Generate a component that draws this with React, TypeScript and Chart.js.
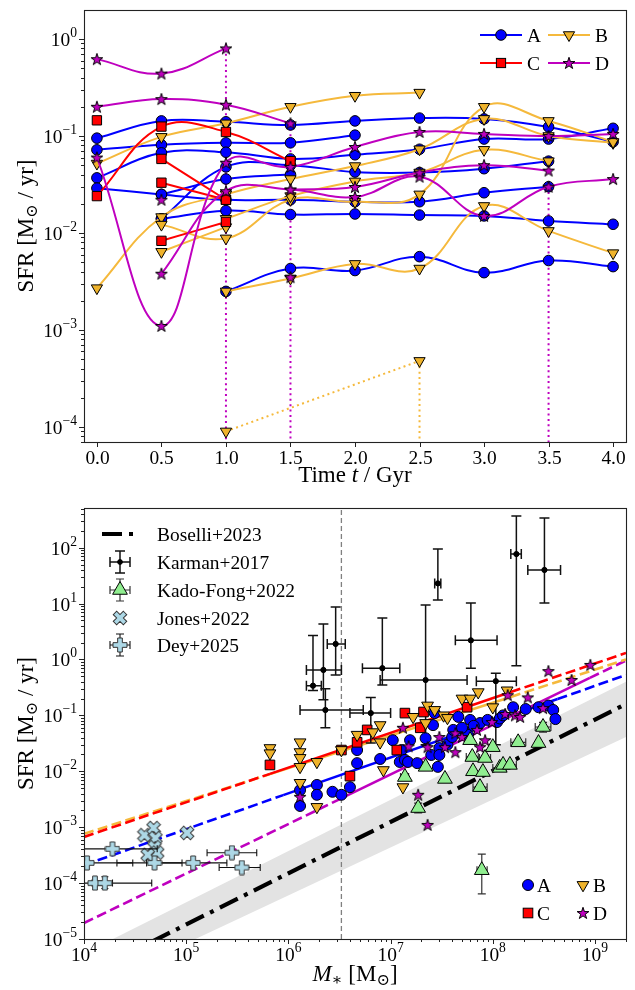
import React, { useEffect, useRef } from "react";
import { Chart, registerables } from "chart.js";

Chart.register(...registerables);

const SERIF = '"Liberation Serif", "Times New Roman", "DejaVu Serif", serif';
const F_TICK = 19.4;
const F_LAB = 23;
const F_LEG = 19.4;

const C_BLUE = "#0000ff";
const C_RED = "#ff0000";
const C_MAG = "#bf00bf";
const C_GOLD = "#f5b93c";
const C_GOLDFILL = "#efb32b";
const C_GREEN = "#90ee90";
const C_LBLUE = "#add8e6";
const C_BAND = "#e3e3e3";

// ================= TOP PANEL DATA =================
const times = [0, 0.5, 1.0, 1.5, 2.0, 2.5, 3.0, 3.5, 4.0];
const timeTicks = [0, 0.5, 1.0, 1.5, 2.0, 2.5, 3.0, 3.5, 4.0];
const topExps = [-4, -3, -2, -1, 0];
const topTMin = -0.1, topTMax = 4.1, topYMin = 7e-5, topYMax = 1.99;

const sfrA1 = [0.095, 0.143, 0.14, 0.13, 0.143, 0.153, 0.15, 0.124, 0.087];
const sfrA2 = [0.072, 0.081, 0.085, 0.085, 0.102, null, null, null, null];
const sfrA3 = [0.037, 0.067, 0.068, 0.058, 0.064, 0.073, 0.093, 0.093, 0.12];
const sfrA4 = [0.029, 0.025, 0.022, 0.022, 0.021, 0.021, 0.026, 0.03, null];
const sfrA5 = [null, 0.014, 0.048, 0.05, 0.0425, 0.042, 0.046, 0.055, null];
const sfrA6 = [null, 0.025, 0.036, 0.04, null, null, null, null, null];
const sfrA7 = [null, 0.014, 0.017, 0.0155, 0.0157, 0.0153, 0.015, 0.0133, 0.0123];
const sfrA8 = [null, null, 0.0025, 0.0043, 0.0041, 0.0057, 0.0039, 0.0052, 0.0045];

const sfrB1 = [0.052, 0.098, 0.135, 0.2, 0.26, 0.28, null, null, null];
const sfrB2 = [0.0027, 0.0146, 0.025, 0.036, 0.049, 0.073, 0.15, 0.1, 0.085];
const sfrB3 = [null, 0.0122, 0.0088, 0.022, 0.021, 0.025, 0.2, 0.143, 0.087];
const sfrB4 = [null, null, 0.0025, 0.0034, 0.0048, 0.0043, 0.019, 0.0105, 0.0062];
const sfrB5 = [null, 0.0064, 0.0115, null, null, null, null, null, null];
const sfrB6 = [null, null, 0.014, 0.024, 0.034, 0.042, 0.072, 0.055, null];
const dottedBTimes = [1.0, 2.5];
const dottedBSfr = [9e-5, 4.8e-4];

const sfrC1 = [0.024, 0.125, 0.11, 0.055, null, null, null, null, null];
const sfrC2 = [null, 0.058, 0.022, null, null, null, null, null, null];
const sfrC3 = [null, 0.033, 0.022, null, null, null, null, null, null];
const sfrC4 = [null, 0.0083, 0.013, null, null, null, null, null, null];
const sfrC5 = [0.145, null, null, null, null, null, null, null, null];

const sfrD1 = [0.62, 0.44, 0.8, null, null, null, null, null, null];
const sfrD2 = [0.2, 0.24, 0.21, 0.135, null, null, null, null, null];
const sfrD3 = [0.06, 0.0011, 0.053, 0.048, 0.077, 0.11, 0.105, 0.1, 0.105];
const sfrD4 = [null, 0.0038, 0.027, 0.028, 0.0235, 0.038, 0.015, 0.03, 0.036];
const sfrD5 = [null, null, null, 0.028, 0.0298, 0.042, 0.05, 0.044, null];
const sfrD6 = [null, 0.022, null, null, null, null, null, null, null];
const sfrD7 = [null, null, null, 0.0035, null, null, null, null, null];

const dropTimesD = [1.0, 1.5, 3.5];
const dropTopD = [0.8, 0.135, 0.03];
const dropTimesB = [2.5];
const dropTopB = [4.8e-4];

// ================= BOTTOM PANEL DATA =================
const botMMin = 1e4, botMMax = 2.01e9, botYMin = 1e-5, botYMax = 513;
const botXExps = [4, 5, 6, 7, 8, 9];
const botYExps = [-5, -4, -3, -2, -1, 0, 1, 2];

const massA = [1.3e6, 1.3e6, 1.9e6, 1.9e6, 2.7e6, 3.3e6, 4.0e6, 4.7e6, 4.7e6, 7.9e6, 1.05e7, 1.23e7, 1.28e7, 1.38e7, 1.48e7, 1.55e7, 1.82e7, 2.2e7, 2.5e7, 2.6e7, 2.9e7, 3.0e7, 3.6e7, 4.0e7, 4.1e7, 4.6e7, 5.4e7, 5.7e7, 6.0e7, 7.5e7, 8.9e7, 1.1e8, 1.58e8, 2.1e8, 2.8e8, 3.5e8, 3.9e8, 4.1e8, 2.7e7, 3.0e7, 5.0e7, 6.5e7, 1.17e8, 1.26e8];
const sfrA = [0.0046, 0.0024, 0.0057, 0.0038, 0.0043, 0.0038, 0.0052, 0.014, 0.024, 0.0166, 0.036, 0.0147, 0.024, 0.016, 0.0147, 0.036, 0.014, 0.039, 0.0196, 0.067, 0.012, 0.026, 0.030, 0.041, 0.055, 0.094, 0.050, 0.045, 0.083, 0.073, 0.083, 0.076, 0.14, 0.13, 0.14, 0.15, 0.125, 0.086, 0.11, 0.0196, 0.06, 0.065, 0.088, 0.1];

const massB = [6.6e5, 6.6e5, 1.3e6, 1.3e6, 1.3e6, 1.3e6, 1.3e6, 1.9e6, 1.9e6, 3.3e6, 4.7e6, 6.7e6, 7.9e6, 7.9e6, 8.5e6, 1.32e7, 1.66e7, 2.2e7, 2.3e7, 2.7e7, 3.3e7, 3.6e7, 5.0e7, 6.0e7, 7.2e7, 1.0e8, 1.38e8];
const sfrB = [0.026, 0.021, 0.033, 0.022, 0.0173, 0.012, 0.0062, 0.0147, 0.0023, 0.024, 0.045, 0.050, 0.067, 0.033, 0.0105, 0.0052, 0.094, 0.073, 0.15, 0.125, 0.10, 0.09, 0.20, 0.20, 0.26, 0.14, 0.28];

const massC = [6.6e5, 3.3e6, 4.0e6, 4.7e6, 5.9e6, 1.15e7, 1.38e7, 1.95e7, 2.1e7, 5.6e7];
const sfrC = [0.013, 0.024, 0.0082, 0.033, 0.055, 0.024, 0.11, 0.060, 0.115, 0.14];

const massD = [1.3e6, 1.32e7, 1.5e7, 1.86e7, 2.3e7, 2.3e7, 3.0e7, 3.4e7, 4.3e7, 4.3e7, 5.0e7, 7.0e7, 7.5e7, 8.4e7, 9.8e7, 1.32e8, 1.65e8, 1.85e8, 1.4e8, 2.2e8, 3.1e8, 3.5e8, 5.9e8, 9.0e8];
const sfrD = [0.0035, 0.060, 0.028, 0.0038, 0.0011, 0.027, 0.041, 0.027, 0.022, 0.048, 0.041, 0.055, 0.027, 0.036, 0.076, 0.106, 0.10, 0.094, 0.23, 0.21, 0.135, 0.62, 0.43, 0.80];

const massKF = [1.38e7, 1.86e7, 2.2e7, 3.4e7, 6.0e7, 6.3e7, 6.4e7, 7.5e7, 7.8e7, 8.0e7, 8.4e7, 1.0e8, 1.17e8, 1.26e8, 1.47e8, 1.77e8, 2.8e8, 3.1e8];
const sfrKF = [0.0079, 0.0022, 0.012, 0.0073, 0.036, 0.018, 0.010, 0.0052, 1.7e-4, 0.0097, 0.0173, 0.027, 0.0115, 0.013, 0.013, 0.033, 0.032, 0.062];
const massKFlo = [1.25e7, null, null, null, null, 5.5e7, null, 6.4e7, 7.0e7, null, 7.4e7, null, 1.0e8, null, 1.25e8, 1.5e8, null, 2.6e8];
const massKFhi = [1.5e7, null, null, null, null, 7.2e7, null, 8.8e7, 8.8e7, null, 9.5e7, null, 1.35e8, null, 1.7e8, 2.1e8, null, 3.7e8];
const sfrKFlo = [null, 0.0018, null, null, null, null, null, null, 6.4e-5, null, null, null, null, null, null, null, null, 0.05];
const sfrKFhi = [null, 0.0027, null, null, null, null, null, null, 3.3e-4, null, null, null, null, null, null, null, null, 0.075];

const massK = [1.74e6, 2.2e6, 2.9e6, 2.3e6, 6.4e6, 8.3e6, 2.2e7, 2.9e7, 6.1e7, 1.07e8, 1.7e8, 3.2e8];
const massKlo = [1.5e6, 1.5e6, 2.4e6, 1.3e6, 4.0e6, 5.3e6, 7.9e6, 2.7e7, 4.3e7, 6.9e7, 1.5e8, 2.2e8];
const massKhi = [2.1e6, 3.3e6, 3.6e6, 5.4e6, 1.0e7, 1.23e7, 5.6e7, 3.1e7, 1.1e8, 1.7e8, 1.9e8, 4.6e8];
const sfrK = [0.34, 0.65, 1.9, 0.125, 0.11, 0.70, 0.43, 23, 2.2, 0.41, 77, 40];
const sfrKlo = [0.28, 0.19, 0.53, 0.06, 0.032, 0.35, 0.030, 11.6, 0.70, 0.030, 0.77, 10.3];
const sfrKhi = [2.7, 4.3, 8.7, 0.30, 0.21, 5.5, 9.4, 95, 10.3, 0.57, 369, 340];

const massJ = [3.9e4, 4.8e4, 5.0e4, 4.9e4, 5.2e4, 4.2e4, 1.02e5];
const sfrJ = [7.2e-4, 9.7e-4, 6.4e-4, 4.4e-4, 3.5e-4, 3.2e-4, 7.9e-4];

const massDey = [1.07e4, 1.9e4, 1.28e4, 1.6e4, 4.9e4, 1.17e5, 2.8e5, 3.5e5];
const sfrDey = [2.3e-4, 4.1e-4, 1.0e-4, 1.0e-4, 2.3e-4, 2.3e-4, 3.5e-4, 1.9e-4];
const massDeyLo = [1.0e4, 1.0e4, 1.0e4, 1.2e4, 2.1e4, 4.1e4, 1.6e5, 2.1e5];
const massDeyHi = [3.0e4, 5.2e4, 1.9e4, 4.6e4, 9.1e4, 2.5e5, 4.9e5, 5.3e5];
const sfrDeyLo = [null, null, null, 8.0e-5, null, null, null, null];
const sfrDeyHi = [null, null, null, 1.3e-4, null, null, null, null];

const bandMass = [1e4, 2.01e9];
const bandUpper = [5.5e-6, 0.40];
const bandLower = [1.16e-6, 0.041];
const boselliMass = [1e4, 2.01e9];
const boselliSfr = [2.2e-6, 0.16];
const vlineMass = 3.3e6;

const fitRedMass = [1e4, 6.6e5, 1.5e8, 2.01e9];
const fitRedSfr = [6.7e-4, 9.0e-3, 0.262, 1.31];
const fitGoldMass = [1e4, 6.6e5, 1.5e8, 2.01e9];
const fitGoldSfr = [7.6e-4, 8.9e-3, 0.214, 1.0];
const fitBlueMass = [1e4, 8.9e5, 4.3e8, 2.01e9];
const fitBlueSfr = [2.1e-4, 3.75e-3, 0.196, 0.53];
const fitMagMass = [1e4, 3.4e6, 8.9e8, 2.01e9];
const fitMagSfr = [1.93e-5, 3.37e-3, 0.47, 0.96];

// ================= helpers =================
function toXY(xs: any[], ys: any[]) {
  const out: any[] = [];
  ys.forEach((v, i) => {
    if (v != null) out.push({ x: xs[i], y: v });
  });
  return out;
}

function makeStarImg(size: number, fill: string) {
  const c = document.createElement("canvas");
  c.width = size;
  c.height = size;
  const g = c.getContext("2d") as CanvasRenderingContext2D;
  const R = size / 2 - 0.8;
  const r = R * 0.382;
  g.beginPath();
  for (let i = 0; i < 10; i++) {
    const a = -Math.PI / 2 + (i * Math.PI) / 5;
    const rr = i % 2 === 0 ? R : r;
    g.lineTo(size / 2 + rr * Math.cos(a), size / 2 + rr * Math.sin(a) + R * 0.08);
  }
  g.closePath();
  g.fillStyle = fill;
  g.fill();
  g.lineWidth = 1;
  g.strokeStyle = "#000";
  g.stroke();
  return c;
}

function makePlusImg(size: number, fill: string, rot: boolean) {
  const c = document.createElement("canvas");
  c.width = size;
  c.height = size;
  const g = c.getContext("2d") as CanvasRenderingContext2D;
  g.translate(size / 2, size / 2);
  if (rot) g.rotate(Math.PI / 4);
  const h = rot ? (size / 2 - 1) * 1.02 : size / 2 - 1;
  const w = h / 3;
  const pts = [
    [-w, -h], [w, -h], [w, -w], [h, -w], [h, w], [w, w],
    [w, h], [-w, h], [-w, w], [-h, w], [-h, -w], [-w, -w],
  ];
  g.beginPath();
  pts.forEach((p) => g.lineTo(p[0], p[1]));
  g.closePath();
  g.fillStyle = fill;
  g.fill();
  g.lineWidth = 1;
  g.strokeStyle = "#333";
  g.stroke();
  return c;
}

function drawRuns(ctx: any, runs: any[], x: number, y: number, align: string) {
  let total = 0;
  const widths = runs.map((r) => {
    ctx.font = `${r.italic ? "italic " : ""}${r.size}px ${SERIF}`;
    const w = ctx.measureText(r.t).width;
    total += w;
    return w;
  });
  let cx = align === "center" ? x - total / 2 : align === "right" ? x - total : x;
  ctx.textAlign = "left";
  ctx.textBaseline = "alphabetic";
  ctx.fillStyle = "#000";
  runs.forEach((r, i) => {
    ctx.font = `${r.italic ? "italic " : ""}${r.size}px ${SERIF}`;
    ctx.fillText(r.t, cx, y + (r.dy || 0));
    cx += widths[i];
  });
}

function powRuns(e: number) {
  const s = e < 0 ? "\u2212" + Math.abs(e) : String(e);
  return [
    { t: "10", size: F_TICK },
    { t: s, size: F_TICK * 0.7, dy: -9 },
  ];
}

function drawFrame(ctx: any, a: any) {
  ctx.save();
  ctx.strokeStyle = "#222";
  ctx.lineWidth = 1.1;
  ctx.strokeRect(Math.round(a.left) + 0.5, Math.round(a.top) + 0.5, Math.round(a.right - a.left), Math.round(a.bottom - a.top));
  ctx.restore();
}

function drawLogTicks(ctx: any, scale: any, axis: string, a: any, vmin: number, vmax: number) {
  ctx.save();
  ctx.strokeStyle = "#222";
  ctx.lineWidth = 1;
  const d0 = Math.floor(Math.log10(vmin));
  const d1 = Math.ceil(Math.log10(vmax));
  for (let d = d0; d <= d1; d++) {
    for (let m = 1; m <= 9; m++) {
      const v = m * Math.pow(10, d);
      if (v < vmin * 0.9999 || v > vmax * 1.0001) continue;
      const p = Math.round(scale.getPixelForValue(v)) + 0.5;
      const len = m === 1 ? 5 : 3;
      ctx.beginPath();
      if (axis === "y") {
        ctx.moveTo(a.left, p);
        ctx.lineTo(a.left - len, p);
      } else {
        ctx.moveTo(p, a.bottom);
        ctx.lineTo(p, a.bottom + len);
      }
      ctx.stroke();
    }
  }
  ctx.restore();
}

function mkCircle(ctx: any, x: number, y: number, r: number, fill: string) {
  ctx.beginPath();
  ctx.arc(x, y, r, 0, Math.PI * 2);
  ctx.fillStyle = fill;
  ctx.fill();
  ctx.lineWidth = 1;
  ctx.strokeStyle = "#000";
  ctx.stroke();
}
function mkTri(ctx: any, x: number, y: number, r: number, fill: string, down: boolean) {
  const s = down ? -1 : 1;
  ctx.beginPath();
  ctx.moveTo(x, y - s * r);
  ctx.lineTo(x + r * 0.866, y + s * r * 0.5);
  ctx.lineTo(x - r * 0.866, y + s * r * 0.5);
  ctx.closePath();
  ctx.fillStyle = fill;
  ctx.fill();
  ctx.lineWidth = 1;
  ctx.strokeStyle = "#000";
  ctx.stroke();
}
function mkSquare(ctx: any, x: number, y: number, half: number, fill: string) {
  ctx.fillStyle = fill;
  ctx.fillRect(x - half, y - half, half * 2, half * 2);
  ctx.lineWidth = 1;
  ctx.strokeStyle = "#000";
  ctx.strokeRect(x - half, y - half, half * 2, half * 2);
}
function mkImg(ctx: any, img: any, x: number, y: number) {
  ctx.drawImage(img, x - img.width / 2, y - img.height / 2);
}
function errCross(ctx: any, x: number, y: number, hw: number, hh: number, cap: number, color: string, lw: number) {
  ctx.save();
  ctx.strokeStyle = color;
  ctx.lineWidth = lw;
  ctx.beginPath();
  ctx.moveTo(x - hw, y); ctx.lineTo(x + hw, y);
  ctx.moveTo(x - hw, y - cap); ctx.lineTo(x - hw, y + cap);
  ctx.moveTo(x + hw, y - cap); ctx.lineTo(x + hw, y + cap);
  ctx.moveTo(x, y - hh); ctx.lineTo(x, y + hh);
  ctx.moveTo(x - cap, y - hh); ctx.lineTo(x + cap, y - hh);
  ctx.moveTo(x - cap, y + hh); ctx.lineTo(x + cap, y + hh);
  ctx.stroke();
  ctx.restore();
}

const errorBarPlugin = {
  id: "errbars",
  beforeDatasetDraw(chart: any, args: any) {
    const ds = chart.data.datasets[args.index];
    const eb = ds && ds.errBars;
    if (!eb) return;
    const { ctx, chartArea: a } = chart;
    const xs = chart.scales.x;
    const ys = chart.scales.y;
    ctx.save();
    ctx.beginPath();
    ctx.rect(a.left, a.top, a.right - a.left, a.bottom - a.top);
    ctx.clip();
    ctx.strokeStyle = eb.color;
    ctx.lineWidth = eb.width;
    const cap = eb.cap;
    eb.items.forEach((it: any) => {
      const px = xs.getPixelForValue(it.x);
      const py = ys.getPixelForValue(it.y);
      ctx.beginPath();
      if (it.xlo != null) {
        const x1 = xs.getPixelForValue(it.xlo);
        const x2 = xs.getPixelForValue(it.xhi);
        ctx.moveTo(x1, py); ctx.lineTo(x2, py);
        ctx.moveTo(x1, py - cap); ctx.lineTo(x1, py + cap);
        ctx.moveTo(x2, py - cap); ctx.lineTo(x2, py + cap);
      }
      if (it.ylo != null) {
        const y1 = ys.getPixelForValue(it.ylo);
        const y2 = ys.getPixelForValue(it.yhi);
        ctx.moveTo(px, y1); ctx.lineTo(px, y2);
        ctx.moveTo(px - cap, y1); ctx.lineTo(px + cap, y1);
        ctx.moveTo(px - cap, y2); ctx.lineTo(px + cap, y2);
      }
      ctx.stroke();
    });
    ctx.restore();
  },
};

function buildErr(xs: any[], ys: any[], xlo: any[] | null, xhi: any[] | null, ylo: any[] | null, yhi: any[] | null) {
  return xs.map((x, i) => ({
    x,
    y: ys[i],
    xlo: xlo ? xlo[i] : null,
    xhi: xhi ? xhi[i] : null,
    ylo: ylo ? ylo[i] : null,
    yhi: yhi ? yhi[i] : null,
  }));
}

// ================= TOP CHART =================
function topConfig(star: any) {
  const datasets: any[] = [];
  dropTimesD.forEach((t, i) => {
    datasets.push({
      data: [{ x: t, y: dropTopD[i] }, { x: t, y: topYMin }],
      borderColor: C_MAG, borderWidth: 2, borderDash: [2, 3.4], pointRadius: 0, tension: 0, order: 100,
    });
  });
  dropTimesB.forEach((t, i) => {
    datasets.push({
      data: [{ x: t, y: dropTopB[i] }, { x: t, y: topYMin }],
      borderColor: C_GOLD, borderWidth: 2, borderDash: [2, 3.4], pointRadius: 0, tension: 0, order: 100,
    });
  });
  datasets.push({
    data: toXY(dottedBTimes, dottedBSfr),
    borderColor: C_GOLD, borderWidth: 2, borderDash: [2, 3.4], tension: 0,
    pointStyle: "triangle", pointRotation: 180, pointRadius: 6.5,
    pointBackgroundColor: C_GOLDFILL, pointBorderColor: "#000", pointBorderWidth: 1, order: 60,
  });
  const groups = [
    { series: [sfrA1, sfrA2, sfrA3, sfrA4, sfrA5, sfrA6, sfrA7, sfrA8], color: C_BLUE, fill: C_BLUE, style: "circle", radius: 5.3, rot: 0, order: 50 },
    { series: [sfrB1, sfrB2, sfrB3, sfrB4, sfrB5, sfrB6], color: C_GOLD, fill: C_GOLDFILL, style: "triangle", radius: 6.5, rot: 180, order: 40 },
    { series: [sfrC1, sfrC2, sfrC3, sfrC4, sfrC5], color: C_RED, fill: C_RED, style: "rect", radius: 6.6, rot: 0, order: 30 },
    { series: [sfrD1, sfrD2, sfrD3, sfrD4, sfrD5, sfrD6, sfrD7], color: C_MAG, fill: C_MAG, style: star, radius: 6, rot: 0, order: 20 },
  ];
  groups.forEach((g) => {
    g.series.forEach((s, k) => {
      datasets.push({
        data: toXY(times, s),
        borderColor: g.color, borderWidth: 2, tension: 0.4,
        pointStyle: g.style, pointRotation: g.rot, pointRadius: g.radius,
        pointBackgroundColor: g.fill, pointBorderColor: "#000", pointBorderWidth: 1,
        order: g.order - k * 0.1,
      });
    });
  });

  const decor = {
    id: "topDecor",
    afterDraw(chart: any) {
      const { ctx, chartArea: a } = chart;
      const xs = chart.scales.x;
      const ys = chart.scales.y;
      drawFrame(ctx, a);
      drawLogTicks(ctx, ys, "y", a, topYMin, topYMax);
      ctx.save();
      ctx.strokeStyle = "#222";
      ctx.lineWidth = 1;
      timeTicks.forEach((t) => {
        const p = Math.round(xs.getPixelForValue(t)) + 0.5;
        ctx.beginPath();
        ctx.moveTo(p, a.bottom);
        ctx.lineTo(p, a.bottom + 5);
        ctx.stroke();
        drawRuns(ctx, [{ t: t.toFixed(1), size: F_TICK }], p, a.bottom + 22, "center");
      });
      topExps.forEach((e) => {
        const p = ys.getPixelForValue(Math.pow(10, e));
        drawRuns(ctx, powRuns(e), a.left - 7, p + 7, "right");
      });
      // axis titles
      drawRuns(ctx, [
        { t: "Time ", size: F_LAB },
        { t: "t", size: F_LAB, italic: true },
        { t: " / Gyr", size: F_LAB },
      ], (a.left + a.right) / 2, 482, "center");
      ctx.save();
      ctx.translate(33, (a.top + a.bottom) / 2);
      ctx.rotate(-Math.PI / 2);
      drawRuns(ctx, [
        { t: "SFR [M", size: F_LAB },
        { t: "\u2299", size: F_LAB * 0.7, dy: 4 },
        { t: " / yr]", size: F_LAB },
      ], 0, 0, "center");
      ctx.restore();
      // legend
      const rows = [
        [{ c: C_BLUE, f: C_BLUE, k: "circle", lab: "A" }, { c: C_GOLD, f: C_GOLDFILL, k: "tri", lab: "B" }],
        [{ c: C_RED, f: C_RED, k: "sq", lab: "C" }, { c: C_MAG, f: C_MAG, k: "star", lab: "D" }],
      ];
      const rowY = [35, 63];
      const colX = [480, 548];
      rows.forEach((row, ri) => {
        row.forEach((it, ci) => {
          const x0 = colX[ci];
          const y = rowY[ri];
          ctx.strokeStyle = it.c;
          ctx.lineWidth = 2;
          ctx.beginPath();
          ctx.moveTo(x0, y);
          ctx.lineTo(x0 + 42, y);
          ctx.stroke();
          const mx = x0 + 21;
          if (it.k === "circle") mkCircle(ctx, mx, y, 5.3, it.f);
          else if (it.k === "tri") mkTri(ctx, mx, y, 6.5, it.f, true);
          else if (it.k === "sq") mkSquare(ctx, mx, y, 4.6, it.f);
          else mkImg(ctx, star, mx, y);
          drawRuns(ctx, [{ t: it.lab, size: F_LEG }], x0 + 47, y + 7, "left");
        });
      });
      ctx.restore();
    },
  };

  return {
    type: "line",
    data: { datasets },
    options: {
      responsive: false,
      animation: false,
      devicePixelRatio: 1,
      events: [],
      layout: { padding: { left: 84, right: 9, top: 10, bottom: 53 }, autoPadding: false },
      plugins: { legend: { display: false }, tooltip: { enabled: false } },
      scales: {
        x: { type: "linear", min: topTMin, max: topTMax, display: false },
        y: { type: "logarithmic", min: topYMin, max: topYMax, display: false },
      },
    },
    plugins: [decor],
  };
}

// ================= BOTTOM CHART =================
function botConfig(star: any, xImg: any, plusImg: any) {
  const scatter = (xs: any[], ys: any[], extra: any) => ({
    data: toXY(xs, ys),
    showLine: false,
    pointBorderColor: "#000",
    pointBorderWidth: 1,
    ...extra,
  });
  const fit = (xs: any[], ys: any[], color: string, order: number) => ({
    data: toXY(xs, ys),
    borderColor: color, borderWidth: 2.6, borderDash: [10, 4.5], pointRadius: 0, tension: 0, clip: 0, order,
    segment: { borderDash: (c: any) => (c.p0DataIndex === 1 ? [] : undefined) },
  });
  const datasets: any[] = [
    { data: toXY(bandMass, bandUpper), borderWidth: 0, pointRadius: 0, fill: "+1", backgroundColor: C_BAND, order: 100, tension: 0, clip: 0 },
    { data: toXY(bandMass, bandLower), borderWidth: 0, pointRadius: 0, fill: false, order: 99, tension: 0, clip: 0 },
    { data: [{ x: vlineMass, y: botYMin }, { x: vlineMass, y: botYMax }], borderColor: "#808080", borderWidth: 1.3, borderDash: [5, 3], pointRadius: 0, order: 95, clip: 0 },
    { data: toXY(boselliMass, boselliSfr), borderColor: "#000", borderWidth: 4.2, borderDash: [20, 7, 4, 7], pointRadius: 0, order: 90, clip: 0 },
    fit(fitBlueMass, fitBlueSfr, C_BLUE, 85),
    fit(fitMagMass, fitMagSfr, C_MAG, 84),
    fit(fitGoldMass, fitGoldSfr, C_GOLD, 83),
    fit(fitRedMass, fitRedSfr, C_RED, 82),
    scatter(massK, sfrK, {
      pointStyle: "circle", pointRadius: 2.6, pointBackgroundColor: "#000", order: 70,
      errBars: { color: "#111", width: 1.5, cap: 5, items: buildErr(massK, sfrK, massKlo, massKhi, sfrKlo, sfrKhi) },
    }),
    scatter(massA, sfrA, { pointStyle: "circle", pointRadius: 5.5, pointBackgroundColor: C_BLUE, order: 60 }),
    scatter(massC, sfrC, { pointStyle: "rect", pointRadius: 6.8, pointBackgroundColor: C_RED, order: 55 }),
    scatter(massB, sfrB, { pointStyle: "triangle", pointRotation: 180, pointRadius: 6.8, pointBackgroundColor: C_GOLDFILL, order: 50 }),
    scatter(massD, sfrD, { pointStyle: star, pointRadius: 6, order: 45 }),
    scatter(massKF, sfrKF, {
      pointStyle: "triangle", pointRadius: 8.5, pointBackgroundColor: C_GREEN, order: 40,
      errBars: { color: "#333", width: 1.2, cap: 4, items: buildErr(massKF, sfrKF, massKFlo, massKFhi, sfrKFlo, sfrKFhi) },
    }),
    scatter(massJ, sfrJ, { pointStyle: xImg, pointRadius: 6, order: 30 }),
    scatter(massDey, sfrDey, {
      pointStyle: plusImg, pointRadius: 6, order: 20,
      errBars: { color: "#111", width: 1.1, cap: 3.5, items: buildErr(massDey, sfrDey, massDeyLo, massDeyHi, sfrDeyLo, sfrDeyHi) },
    }),
  ];

  const decor = {
    id: "botDecor",
    afterDraw(chart: any) {
      const { ctx, chartArea: a } = chart;
      const xs = chart.scales.x;
      const ys = chart.scales.y;
      drawFrame(ctx, a);
      drawLogTicks(ctx, ys, "y", a, botYMin, botYMax);
      drawLogTicks(ctx, xs, "x", a, botMMin, botMMax);
      ctx.save();
      botXExps.forEach((e) => {
        const p = xs.getPixelForValue(Math.pow(10, e));
        drawRuns(ctx, powRuns(e), p, a.bottom + 22, "center");
      });
      botYExps.forEach((e) => {
        const p = ys.getPixelForValue(Math.pow(10, e));
        drawRuns(ctx, powRuns(e), a.left - 7, p + 7, "right");
      });
      drawRuns(ctx, [
        { t: "M", size: F_LAB, italic: true },
        { t: "\u2217", size: F_LAB * 0.7, dy: 4 },
        { t: " [M", size: F_LAB },
        { t: "\u2299", size: F_LAB * 0.7, dy: 4 },
        { t: "]", size: F_LAB },
      ], (a.left + a.right) / 2, 486, "center");
      ctx.save();
      ctx.translate(33, (a.top + a.bottom) / 2);
      ctx.rotate(-Math.PI / 2);
      drawRuns(ctx, [
        { t: "SFR [M", size: F_LAB },
        { t: "\u2299", size: F_LAB * 0.7, dy: 4 },
        { t: " / yr]", size: F_LAB },
      ], 0, 0, "center");
      ctx.restore();

      // upper-left legend
      const hx = 120;
      const tx = 157;
      const ry = [39, 67, 95, 123, 150];
      ctx.save();
      ctx.strokeStyle = "#000";
      ctx.lineWidth = 4.2;
      ctx.setLineDash([20, 7, 4, 7]);
      ctx.beginPath();
      ctx.moveTo(102, ry[0]);
      ctx.lineTo(139, ry[0]);
      ctx.stroke();
      ctx.restore();
      errCross(ctx, hx, ry[1], 10, 11, 5, "#111", 1.5);
      mkCircle(ctx, hx, ry[1], 2.4, "#000");
      errCross(ctx, hx, ry[2], 10, 11, 4, "#333", 1.2);
      mkTri(ctx, hx, ry[2], 8.5, C_GREEN, false);
      mkImg(ctx, xImg, hx, ry[3]);
      errCross(ctx, hx, ry[4], 10, 11, 4, "#111", 1.1);
      mkImg(ctx, plusImg, hx, ry[4]);
      const labs = ["Boselli+2023", "Karman+2017", "Kado-Fong+2022", "Jones+2022", "Dey+2025"];
      labs.forEach((l, i) => drawRuns(ctx, [{ t: l, size: F_LEG }], tx, ry[i] + 7, "left"));

      // lower-right legend
      const r1 = 390, r2 = 418;
      mkCircle(ctx, 528, r1, 5.5, C_BLUE);
      drawRuns(ctx, [{ t: "A", size: F_LEG }], 537, r1 + 7, "left");
      mkTri(ctx, 583, r1, 6.8, C_GOLDFILL, true);
      drawRuns(ctx, [{ t: "B", size: F_LEG }], 593, r1 + 7, "left");
      mkSquare(ctx, 528, r2, 4.8, C_RED);
      drawRuns(ctx, [{ t: "C", size: F_LEG }], 537, r2 + 7, "left");
      mkImg(ctx, star, 583, r2);
      drawRuns(ctx, [{ t: "D", size: F_LEG }], 593, r2 + 7, "left");
      ctx.restore();
    },
  };

  return {
    type: "line",
    data: { datasets },
    options: {
      responsive: false,
      animation: false,
      devicePixelRatio: 1,
      events: [],
      layout: { padding: { left: 84, right: 9, top: 13, bottom: 51 }, autoPadding: false },
      plugins: { legend: { display: false }, tooltip: { enabled: false } },
      scales: {
        x: { type: "logarithmic", min: botMMin, max: botMMax, display: false },
        y: { type: "logarithmic", min: botYMin, max: botYMax, display: false },
      },
    },
    plugins: [errorBarPlugin, decor],
  };
}

export default function App() {
  const topRef = useRef<HTMLCanvasElement>(null);
  const botRef = useRef<HTMLCanvasElement>(null);
  useEffect(() => {
    document.body.style.margin = "0";
    const star = makeStarImg(14, C_MAG);
    const xImg = makePlusImg(16, C_LBLUE, true);
    const plusImg = makePlusImg(16, C_LBLUE, false);
    const c1 = new Chart(topRef.current as any, topConfig(star) as any);
    const c2 = new Chart(botRef.current as any, botConfig(star, xImg, plusImg) as any);
    return () => {
      c1.destroy();
      c2.destroy();
    };
  }, []);
  return (
    <div style={{ width: 635, height: 990, position: "relative", background: "#fff" }}>
      <canvas ref={topRef} width={635} height={495} style={{ display: "block", width: 635, height: 495 }} />
      <canvas ref={botRef} width={635} height={495} style={{ display: "block", width: 635, height: 495 }} />
    </div>
  );
}
